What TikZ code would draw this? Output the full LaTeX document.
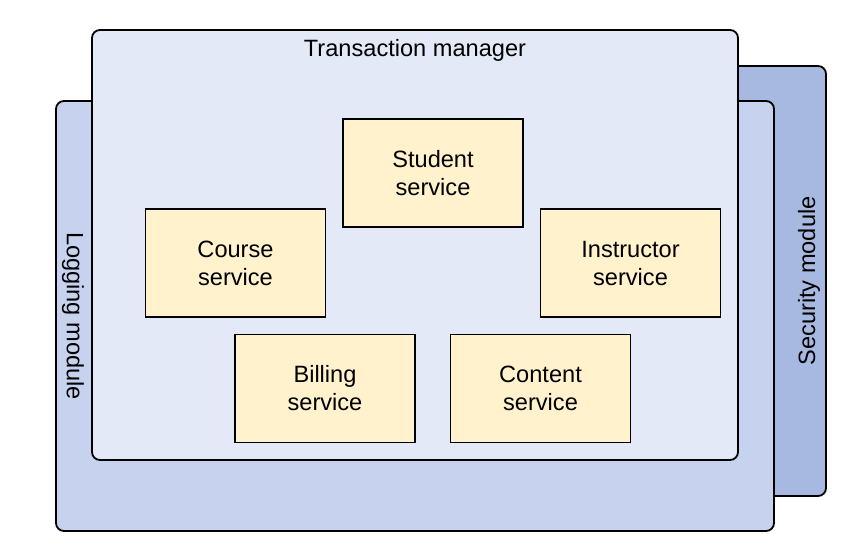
\documentclass[tikz,border=0pt]{standalone}
\usepackage{fontspec}
\setmainfont{Liberation Sans}
\begin{document}
\begin{tikzpicture}[x=1pt,y=-1pt,
  every node/.style={font=\fontsize{23.6}{28}\selectfont, inner sep=0pt, outer sep=0pt},
  layer/.style={draw=black, line width=1.8pt, rounded corners=8pt},
  svc/.style={draw=black, line width=1.8pt, fill=svcfill, minimum width=180pt, minimum height=108pt, align=center},
  lbl/.style={text=black}]
\definecolor{secfill}{HTML}{A7B9E0}
\definecolor{logfill}{HTML}{C7D3EE}
\definecolor{txfill}{HTML}{E3E9F7}
\definecolor{svcfill}{HTML}{FFF2CC}
\useasboundingbox (0,0) rectangle (861,558);
% layers
\node[layer, fill=secfill, minimum width=126pt, minimum height=430pt] (sec) at (763,281) {};
\node[layer, fill=logfill, minimum width=718pt, minimum height=430pt] (log) at (415,316) {};
\node[layer, fill=txfill, minimum width=646pt, minimum height=430pt] (tx) at (415,245) {};
% layer labels
\node[lbl, anchor=base] (txlbl) at (415,56) {Transaction manager};
\node[lbl, rotate=-90] (loglbl) at (73,316) {Logging module};
\node[lbl, rotate=90] (seclbl) at (809,281) {Security module};
% services
\node[svc] (student) at (433,173) {Student\\service};
\node[svc] (course) at (235.5,263) {Course\\service};
\node[svc] (instructor) at (630.5,263) {Instructor\\service};
\node[svc] (billing) at (325,388.5) {Billing\\service};
\node[svc] (content) at (540.5,388.5) {Content\\service};
\end{tikzpicture}
\end{document}
